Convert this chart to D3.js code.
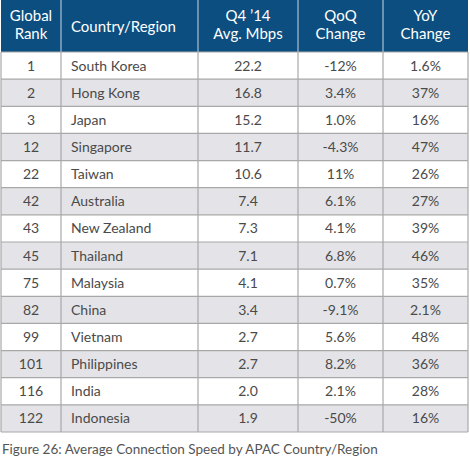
<!DOCTYPE html>
<html><head><meta charset="utf-8">
<script src="https://cdn.jsdelivr.net/npm/d3@7"></script>
<style>body{margin:0;background:#fff;font-family:Lato,"Open Sans",sans-serif}</style>
</head><body><div id="chart"></div>
<script>
const ranks = [1, 2, 3, 12, 22, 42, 43, 45, 75, 82, 99, 101, 116, 122];
const countries = ["South Korea", "Hong Kong", "Japan", "Singapore", "Taiwan", "Australia", "New Zealand", "Thailand", "Malaysia", "China", "Vietnam", "Philippines", "India", "Indonesia"];
const speeds = ["22.2", "16.8", "15.2", "11.7", "10.6", "7.4", "7.3", "7.1", "4.1", "3.4", "2.7", "2.7", "2.0", "1.9"];
const qoq = ["-12%", "3.4%", "1.0%", "-4.3%", "11%", "6.1%", "4.1%", "6.8%", "0.7%", "-9.1%", "5.6%", "8.2%", "2.1%", "-50%"];
const yoy = ["1.6%", "37%", "16%", "47%", "26%", "27%", "39%", "46%", "35%", "2.1%", "48%", "36%", "28%", "16%"];
const headers = [["Global", "Rank"], ["Country/Region"], ["Q4 \u201914", "Avg. Mbps"], ["QoQ", "Change"], ["YoY", "Change"]];

const W = 470, H = 462;
const edges = [1, 61, 198, 298, 383, 468];
const headH = 52, tableTop = 52, tableBottom = 432;
const svg = d3.select("#chart").append("svg").attr("width", W).attr("height", H);

const y = d3.scaleBand().domain(d3.range(ranks.length)).range([tableTop, tableBottom]);
const rows = ranks.map((r, i) => [String(r), countries[i], speeds[i], qoq[i], yoy[i]]);

svg.append("rect").attr("x", edges[0]).attr("y", 0).attr("width", edges[5] - edges[0]).attr("height", headH).attr("fill", "#0c4e80");

svg.selectAll(".row").data(rows).enter().append("rect")
  .attr("x", edges[0]).attr("y", (d, i) => y(i))
  .attr("width", edges[5] - edges[0]).attr("height", y.bandwidth())
  .attr("fill", (d, i) => i % 2 ? "#e4e4e8" : "#ffffff");

// header text
headers.forEach((h, c) => {
  const cx = c === 1 ? edges[1] + 10 : (edges[c] + edges[c + 1]) / 2;
  const t = svg.append("text").attr("fill", "#fff").attr("font-size", 15)
    .attr("text-anchor", c === 1 ? "start" : "middle");
  if (h.length === 1) t.append("tspan").attr("x", cx).attr("y", 32).text(h[0]);
  else h.forEach((s, k) => t.append("tspan").attr("x", cx).attr("y", 21 + k * 18).text(s));
});

// cells
rows.forEach((r, i) => {
  r.forEach((v, c) => {
    svg.append("text")
      .attr("x", c === 1 ? edges[1] + 10 : (edges[c] + edges[c + 1]) / 2)
      .attr("y", y(i) + y.bandwidth() / 2 + 5)
      .attr("text-anchor", c === 1 ? "start" : "middle")
      .attr("font-size", 14).attr("fill", "#4a4a4a").text(v);
  });
});

// grid lines
edges.forEach((x, k) => {
  svg.append("line").attr("x1", x).attr("x2", x).attr("y1", k === 0 || k === 5 ? tableTop : 0).attr("y2", tableBottom)
    .attr("stroke", "#a8a8a8").attr("stroke-width", 1.2);
  if (k > 0 && k < 5)
    svg.append("line").attr("x1", x).attr("x2", x).attr("y1", 0).attr("y2", tableTop).attr("stroke", "#6f9cc4").attr("stroke-width", 1.2);
});
d3.range(ranks.length + 1).forEach(i => {
  const yy = i === ranks.length ? tableBottom : y(i);
  svg.append("line").attr("x1", edges[0]).attr("x2", edges[5]).attr("y1", yy).attr("y2", yy)
    .attr("stroke", "#a8a8a8").attr("stroke-width", 1.2);
});

svg.append("text").attr("x", 2).attr("y", 454).attr("font-size", 13.5).attr("fill", "#555")
  .text("Figure 26: Average Connection Speed by APAC Country/Region");
</script></body></html>
